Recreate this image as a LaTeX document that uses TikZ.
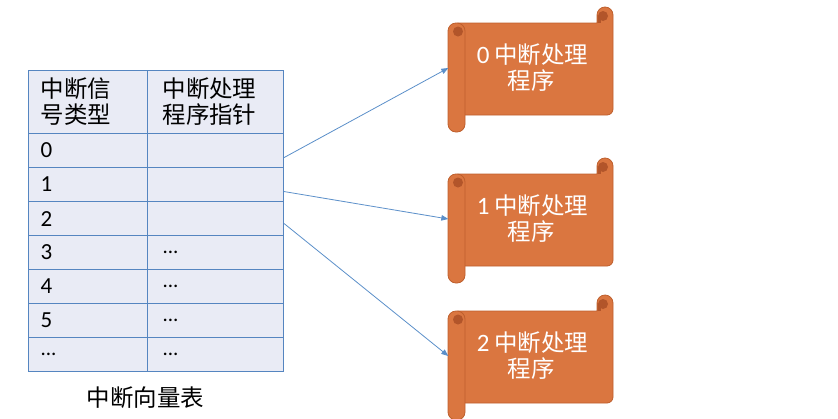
\documentclass[tikz,border=0pt]{standalone}
\usepackage{fontspec}
\setmainfont[Numbers=Lining]{Carlito}
\newfontfamily\cjk[Scale=1.02]{Noto Sans CJK SC}
\usetikzlibrary{arrows.meta,calc}
\definecolor{tblfill}{HTML}{E9EBF5}
\definecolor{tblline}{HTML}{5585C0}
\definecolor{scrollfill}{HTML}{DA7640}
\definecolor{scrollline}{HTML}{BE5F2D}
\definecolor{scrolldark}{HTML}{B2552A}
\definecolor{arrowc}{HTML}{5B8FC9}
\newcommand\zhtxt[1]{{\cjk #1}}
\newcommand\dotsx{{\fontsize{21}{26}\selectfont .{}.{}.}}
\begin{document}
\begin{tikzpicture}[x=1pt,y=-1pt,
  font=\fontsize{23}{26}\selectfont,
  cell/.style={draw=tblline, line width=1.1pt, fill=tblfill, anchor=north west,
    inner ysep=0pt, minimum height=34pt, align=left},
  colA/.style={cell, inner xsep=12pt, text width=95pt},
  colB/.style={cell, inner xsep=15pt, text width=106pt},
  stext/.style={text=white, align=center, inner sep=0pt,
    minimum width=165pt, minimum height=92pt},
  scrollbody/.style={fill=scrollfill, draw=scrollline, line width=0.8pt},
  arr/.style={draw=arrowc, line width=0.8pt, -{Triangle[length=7pt,width=5.5pt]}},
]
\useasboundingbox (0,0) rectangle (838,418);

% table header
\node[colA, minimum height=63pt] (hA) at (28,70) {\zhtxt{中断信}\\\zhtxt{号类型}};
\node[colB, minimum height=63pt] (hB) at (147,70) {\zhtxt{中断处理}\\\zhtxt{程序指针}};

% table rows
\foreach \i/\a/\b in {0/0/{},1/1/{},2/2/{},3/3/\dotsx,4/4/\dotsx,5/5/\dotsx,6/\dotsx/\dotsx}{
  \node[colA] (r\i a) at (28,133+34*\i) {\a};
  \node[colB] (r\i b) at (147,133+34*\i) {\b};
}
\node (cap) at (145.5,398) {\zhtxt{中断向量表}};

% scrolls
\foreach \i/\dy in {0/0,1/151,2/288}{
  \begin{scope}[shift={(0,\dy)}]
    \filldraw[scrollbody] (458,23) -- (597,23) -- (597,15)
      arc[start angle=180,end angle=0,radius=8pt] -- (613,109)
      arc[start angle=0,end angle=-90,radius=6pt] -- (458,115) -- cycle;
    \fill[scrolldark] (603,16) circle[radius=5pt];
    \fill[scrolldark] (598,16) rectangle (601,22.5);
    \draw[scrollline, line width=0.6pt] (597,15) -- (597,23);
    \filldraw[scrollbody, rounded corners=8pt] (448,23) rectangle (465,132);
    \fill[scrolldark] (458,31.5) circle[radius=5pt];
    \node[stext] (s\i) at (531,68) {\hspace*{3pt}{\fontsize{25}{26}\selectfont\i}\hspace{5pt}\zhtxt{中断处理}\\\zhtxt{程序}};
  \end{scope}
}

% arrows
\coordinate (p0) at ($(r0b.east)+(0,7)$);
\coordinate (p1) at ($(r1b.east)+(0,7)$);
\coordinate (p2) at ($(r2b.east)+(0,5)$);
\draw[arr] (p0) -- (s0.west);
\draw[arr] (p1) -- (s1.west);
\draw[arr] (p2) -- (s2.west);
\end{tikzpicture}
\end{document}
